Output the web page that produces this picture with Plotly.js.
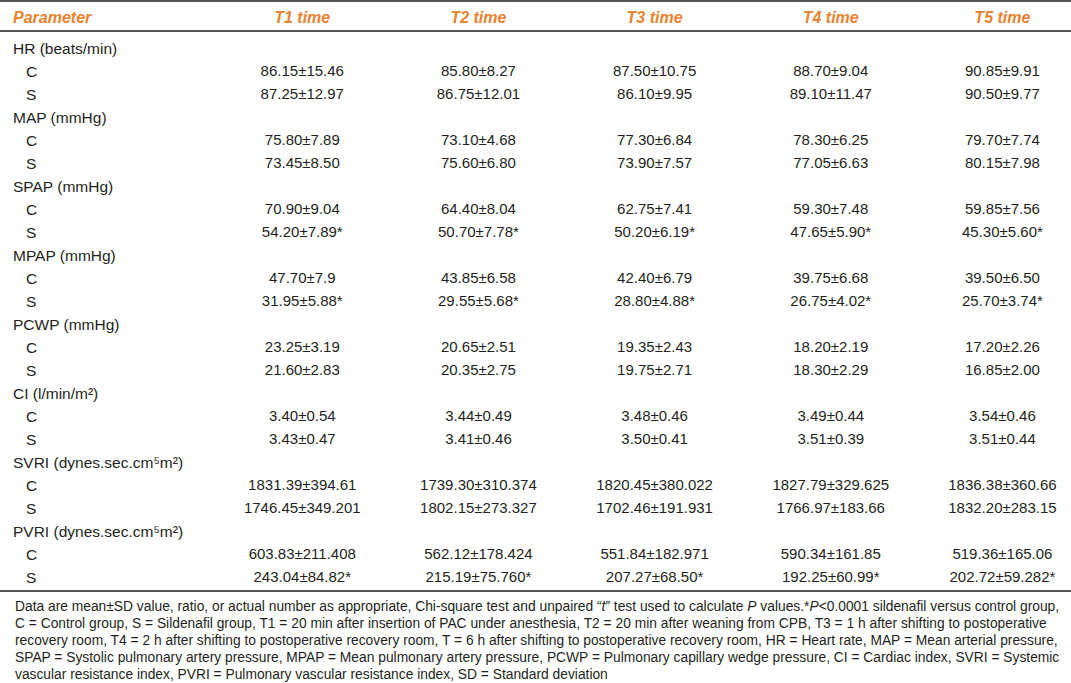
<!DOCTYPE html>
<html>
<head>
<meta charset="utf-8">
<script src="https://cdn.plot.ly/plotly-3.0.1.min.js"></script>
<style>
  html, body { margin: 0; padding: 0; background: #fff; overflow: hidden; }
  #chart { width: 1086px; height: 683px; }
</style>
</head>
<body>
<div id="chart"></div>
<script>
// Table content
const headers = ['Parameter', 'T1 time', 'T2 time', 'T3 time', 'T4 time', 'T5 time'];
const parameters = ['HR (beats/min)', 'MAP (mmHg)', 'SPAP (mmHg)', 'MPAP (mmHg)', 'PCWP (mmHg)',
    'CI (l/min/m²)', 'SVRI (dynes.sec.cm⁵m²)', 'PVRI (dynes.sec.cm⁵m²)'];
const groups = ['C', 'S'];

// values per time point: control (C) and sildenafil (S) groups, one entry per parameter
const t1C = ['86.15±15.46', '75.80±7.89', '70.90±9.04', '47.70±7.9', '23.25±3.19', '3.40±0.54', '1831.39±394.61', '603.83±211.408'];
const t1S = ['87.25±12.97', '73.45±8.50', '54.20±7.89*', '31.95±5.88*', '21.60±2.83', '3.43±0.47', '1746.45±349.201', '243.04±84.82*'];
const t2C = ['85.80±8.27', '73.10±4.68', '64.40±8.04', '43.85±6.58', '20.65±2.51', '3.44±0.49', '1739.30±310.374', '562.12±178.424'];
const t2S = ['86.75±12.01', '75.60±6.80', '50.70±7.78*', '29.55±5.68*', '20.35±2.75', '3.41±0.46', '1802.15±273.327', '215.19±75.760*'];
const t3C = ['87.50±10.75', '77.30±6.84', '62.75±7.41', '42.40±6.79', '19.35±2.43', '3.48±0.46', '1820.45±380.022', '551.84±182.971'];
const t3S = ['86.10±9.95', '73.90±7.57', '50.20±6.19*', '28.80±4.88*', '19.75±2.71', '3.50±0.41', '1702.46±191.931', '207.27±68.50*'];
const t4C = ['88.70±9.04', '78.30±6.25', '59.30±7.48', '39.75±6.68', '18.20±2.19', '3.49±0.44', '1827.79±329.625', '590.34±161.85'];
const t4S = ['89.10±11.47', '77.05±6.63', '47.65±5.90*', '26.75±4.02*', '18.30±2.29', '3.51±0.39', '1766.97±183.66', '192.25±60.99*'];
const t5C = ['90.85±9.91', '79.70±7.74', '59.85±7.56', '39.50±6.50', '17.20±2.26', '3.54±0.46', '1836.38±360.66', '519.36±165.06'];
const t5S = ['90.50±9.77', '80.15±7.98', '45.30±5.60*', '25.70±3.74*', '16.85±2.00', '3.51±0.44', '1832.20±283.15', '202.72±59.282*'];

const footnote = [
    'Data are mean±SD value, ratio, or actual number as appropriate, Chi-square test and unpaired “<i>t</i>” test used to calculate <i>P</i> values.*<i>P</i>&lt;0.0001 sildenafil versus control group,',
    'C = Control group, S = Sildenafil group, T1 = 20 min after insertion of PAC under anesthesia, T2 = 20 min after weaning from CPB, T3 = 1 h after shifting to postoperative',
    'recovery room, T4 = 2 h after shifting to postoperative recovery room, T = 6 h after shifting to postoperative recovery room, HR = Heart rate, MAP = Mean arterial pressure,',
    'SPAP = Systolic pulmonary artery pressure, MPAP = Mean pulmonary artery pressure, PCWP = Pulmonary capillary wedge pressure, CI = Cardiac index, SVRI = Systemic',
    'vascular resistance index, PVRI = Pulmonary vascular resistance index, SD = Standard deviation'
];

const H = 683;
const indent = '\u00a0\u00a0\u00a0';
const textColor = '#231F20';
const fontFamily = 'Liberation Sans, Arial, sans-serif';

// Build table columns: parameter row, then C and S rows
function buildColumn(cVals, sVals) {
    const col = [];
    parameters.forEach((p, i) => {
        col.push('');
        col.push(cVals[i]);
        col.push(sVals[i]);
    });
    return col;
}

const firstCol = [];
parameters.forEach(p => {
    firstCol.push(p);
    groups.forEach(g => firstCol.push(indent + g));
});

const trace = {
    type: 'table',
    domain: { x: [0, 1], y: [0.1, 1 - 1 / H] },
    columnwidth: [209, 176, 176, 176, 176, 167],
    header: {
        values: headers.map(h => '<b><i>' + h + '</i></b>'),
        align: ['left', 'center', 'center', 'center', 'center', 'center'],
        height: 32,
        fill: { color: 'white' },
        line: { width: 0, color: 'white' },
        font: { family: fontFamily, size: 16, color: '#E8822F' }
    },
    cells: {
        values: [firstCol, buildColumn(t1C, t1S), buildColumn(t2C, t2S), buildColumn(t3C, t3S),
            buildColumn(t4C, t4S), buildColumn(t5C, t5S)],
        align: ['left', 'center', 'center', 'center', 'center', 'center'],
        height: 23,
        fill: { color: 'white' },
        line: { width: 0, color: 'white' },
        font: { family: fontFamily, size: [15.5, 15, 15, 15, 15, 15], color: textColor }
    }
};

// horizontal rules of the table
const rules = [1, 31, 591];
const shapes = rules.map(px => ({
    type: 'line', xref: 'paper', yref: 'paper',
    x0: -0.01, x1: 1, y0: 1 - px / H, y1: 1 - px / H,
    line: { color: textColor, width: 1.3 }
}));

const footY = [606, 623, 640, 657, 674];
const annotations = footnote.map((t, i) => ({
    text: t, xref: 'paper', yref: 'paper',
    x: 0, xshift: 8, y: 1 - footY[i] / H,
    xanchor: 'left', yanchor: 'middle', showarrow: false, align: 'left',
    font: { family: fontFamily, size: 13.8, color: textColor }
}));

const layout = {
    width: 1086,
    height: H,
    margin: { l: 5, r: 0, t: 0, b: 0 },
    paper_bgcolor: 'white',
    plot_bgcolor: 'white',
    shapes: shapes,
    annotations: annotations
};

Plotly.newPlot('chart', [trace], layout, { displayModeBar: false, staticPlot: true });
</script>
</body>
</html>
